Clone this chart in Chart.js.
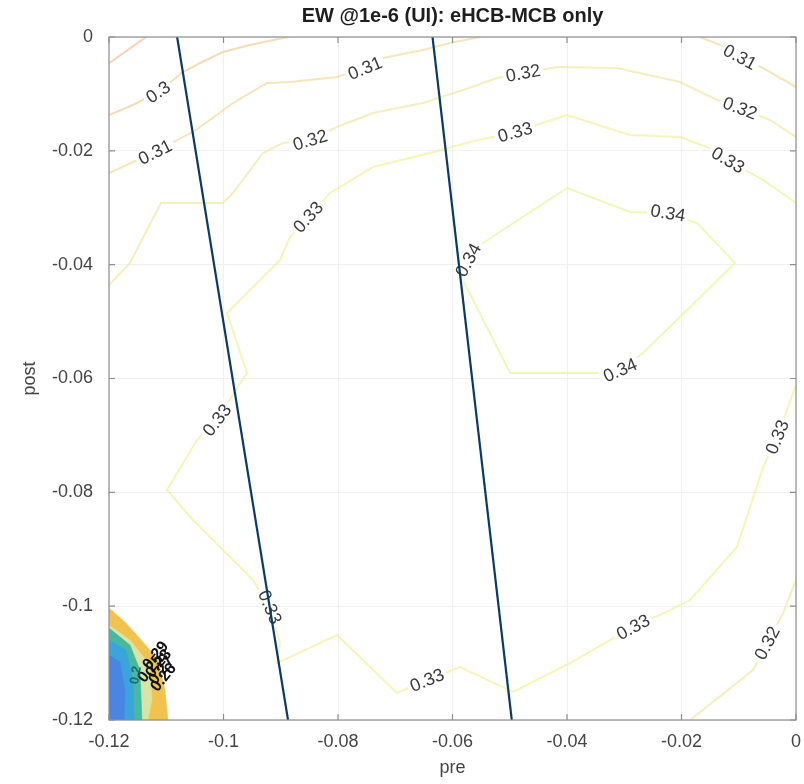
<!DOCTYPE html>
<html><head><meta charset="utf-8">
<script src="https://cdn.jsdelivr.net/npm/chart.js@4/dist/chart.umd.min.js"></script>
<style>html,body{margin:0;padding:0;background:#fff}canvas{display:block}</style>
</head><body>
<canvas id="c" width="804" height="784"></canvas>
<script>
// ---------- data ----------
const titleText = 'EW @1e-6 (UI): eHCB-MCB only';
const xLabel = 'pre';
const yLabel = 'post';
const xTicks = [-0.12, -0.1, -0.08, -0.06, -0.04, -0.02, 0];
const yTicks = [-0.12, -0.1, -0.08, -0.06, -0.04, -0.02, 0];

// straight divider lines [x,y]
const divider1 = [[-0.1081, 0], [-0.08873, -0.12]];
const divider2 = [[-0.06349, 0], [-0.04965, -0.12]];

// contour paths [pre, post]
const contour029 = [[-0.12,-0.0046],[-0.1135,0]];
const contour030 = [[-0.12,-0.0137],[-0.11546,-0.01177],[-0.11144,-0.00966],[-0.10707,-0.00615],[-0.1041,-0.00457],[-0.10009,-0.00264],[-0.09537,-0.00141],[-0.08873,0]];
const contour031a = [[-0.12,-0.0239],[-0.11196,-0.02021],[-0.1048,-0.01634],[-0.09834,-0.0116],[-0.0924,-0.00808],[-0.08838,-0.00791],[-0.08017,-0.00703],[-0.07528,-0.00545],[-0.07213,-0.00369],[-0.06515,-0.00228],[-0.06043,-0.00105],[-0.05519,0]];
const contour031b = [[-0.01675,0],[-0.01326,-0.0014],[-0.00977,-0.00351],[-0.00575,-0.00545],[0,-0.00879]];
const contour032a = [[-0.12,-0.04357],[-0.11633,-0.03971],[-0.11092,-0.02917],[-0.10009,-0.02917],[-0.09834,-0.02741],[-0.0931,-0.02038],[-0.0896,-0.01862],[-0.08489,-0.0181],[-0.08017,-0.01581],[-0.07388,-0.01335],[-0.06515,-0.0116],[-0.05816,-0.00931],[-0.05222,-0.0072],[-0.04768,-0.00633],[-0.04174,-0.00527],[-0.03126,-0.00545],[-0.02025,-0.00791],[-0.01379,-0.01107],[-0.00977,-0.01247],[-0.00453,-0.01458],[0,-0.01757]];
const contour032b = [[-0.0185,-0.12],[-0.00749,-0.11122],[-0.00505,-0.10647],[-0.00225,-0.1012],[0,-0.0954]];
const contour033a = [[0,-0.02917],[-0.00575,-0.02513],[-0.01187,-0.02161],[-0.01553,-0.01933],[-0.02025,-0.01757],[-0.02898,-0.01722],[-0.04,-0.0137],[-0.04907,-0.01669],[-0.05693,-0.01845],[-0.06392,-0.02038],[-0.07388,-0.02284],[-0.08139,-0.02741],[-0.08524,-0.03163],[-0.08838,-0.03514],[-0.09013,-0.03918],[-0.09939,-0.04849],[-0.09589,-0.05904],[-0.09764,-0.06167],[-0.10113,-0.06729],[-0.10463,-0.07081],[-0.10987,-0.07959],[-0.10533,-0.08486],[-0.09484,-0.0954],[-0.09187,-0.10015],[-0.09013,-0.10647],[-0.09065,-0.11],[-0.08017,-0.10507],[-0.06969,-0.11526],[-0.06445,-0.11298],[-0.05868,-0.11069],[-0.04942,-0.11508],[-0.03947,-0.11],[-0.02846,-0.10366],[-0.022,-0.10068],[-0.0185,-0.09892],[-0.01029,-0.08961],[-0.00575,-0.07555],[-0.00331,-0.07028],[-0.0005,-0.06255],[0,-0.06114]];
const contour034 = [[-0.04,-0.02653],[-0.02898,-0.03075],[-0.02235,-0.03092],[-0.01728,-0.03268],[-0.01064,-0.03971],[-0.02671,-0.05552],[-0.03073,-0.05851],[-0.03475,-0.05904],[-0.04995,-0.05904],[-0.05816,-0.0427],[-0.05728,-0.03918],[-0.05467,-0.03619],[-0.04,-0.02653]];

// contour label: [text, path, vertex index]
const contourLabels = [
  ['0.3', 'contour030', 2],
  ['0.31', 'contour031a', 1], ['0.31', 'contour031a', 7], ['0.31', 'contour031b', 2],
  ['0.32', 'contour032a', 7], ['0.32', 'contour032a', 13], ['0.32', 'contour032a', 18], ['0.32', 'contour032b', 2],
  ['0.33', 'contour033a', 2], ['0.33', 'contour033a', 7], ['0.33', 'contour033a', 12], ['0.33', 'contour033a', 18],
  ['0.33', 'contour033a', 23], ['0.33', 'contour033a', 28], ['0.33', 'contour033a', 32], ['0.33', 'contour033a', 37],
  ['0.34', 'contour034', 2], ['0.34', 'contour034', 6], ['0.34', 'contour034', 10]
];

// low-value filled region in the corner (parula bands)
const patchGold = [[-0.12,-0.10032],[-0.1172,-0.10279],[-0.11406,-0.1063],[-0.11144,-0.10946],[-0.11022,-0.11473],[-0.10969,-0.12],[-0.12,-0.12]];
const patchPale = [[-0.12,-0.10331],[-0.11633,-0.10595],[-0.11284,-0.11034],[-0.11249,-0.11649],[-0.1132,-0.12],[-0.12,-0.12]];
const patchTeal = [[-0.12,-0.10384],[-0.11633,-0.10683],[-0.11458,-0.11122],[-0.11424,-0.12],[-0.12,-0.12]];
const patchCyan = [[-0.12,-0.10595],[-0.11703,-0.1077],[-0.11581,-0.11298],[-0.11563,-0.12],[-0.12,-0.12]];
const patchBlue = [[-0.12,-0.10858],[-0.11808,-0.10981],[-0.1172,-0.11473],[-0.11738,-0.12],[-0.12,-0.12]];
// crowded labels in the corner: [text, pre, post]
const cornerLabels = [['0.29',-0.11196,-0.10858],['0.28',-0.11144,-0.11],['0.27',-0.11092,-0.11122],['0.26',-0.11057,-0.11245],['0.25',-0.11284,-0.11087]];
const cornerTealLabel = ['0.2', -0.11546, -0.1121];

// ---------- chart ----------
const paths = {contour029, contour030, contour031a, contour031b, contour032a, contour032b, contour033a, contour034};
const toXY = a => a.map(p => ({x: p[0], y: p[1]}));
const FONT = '"Liberation Sans", Arial, Helvetica, sans-serif';

const contourStyles = [
  ['contour029', 'rgba(238,175,120,0.55)'],
  ['contour030', 'rgba(236,196,135,0.6)'],
  ['contour031a', 'rgba(236,212,145,0.6)'],
  ['contour031b', 'rgba(236,212,145,0.6)'],
  ['contour032a', 'rgba(236,226,150,0.6)'],
  ['contour032b', 'rgba(236,226,150,0.6)'],
  ['contour033a', 'rgba(238,238,150,0.65)'],
  ['contour034', 'rgba(232,242,150,0.65)']
];
// lower index is drawn on top, so innermost band first
const patchStyles = [
  [patchBlue, '#4a85e2'], [patchCyan, '#3aa5dc'], [patchTeal, '#45b9a2'], [patchPale, '#d9e4a4'], [patchGold, '#f1c24e']
];

const datasets = [];
[divider1, divider2].forEach(d => datasets.push({
  data: toXY(d), showLine: true, borderColor: '#0b3a68', borderWidth: 2.2, pointRadius: 0, fill: false, order: 0
}));
contourStyles.forEach(([name, col]) => datasets.push({
  data: toXY(paths[name]), showLine: true, borderColor: col, borderWidth: 2, pointRadius: 0, fill: false, order: 1
}));
patchStyles.forEach(([poly, col]) => datasets.push({
  data: toXY(poly), showLine: true, borderColor: col, borderWidth: 0.5, backgroundColor: col, pointRadius: 0, fill: 'shape', order: 2
}));

function drawRotLabel(ctx, text, px, py, ang, color, font, bg) {
  ctx.save();
  ctx.translate(px, py);
  ctx.rotate(ang);
  ctx.font = font;
  ctx.textAlign = 'center';
  ctx.textBaseline = 'middle';
  if (bg) {
    const w = ctx.measureText(text).width;
    ctx.fillStyle = '#ffffff';
    ctx.fillRect(-w / 2 - 3, -8, w + 6, 16);
  }
  ctx.fillStyle = color;
  ctx.fillText(text, 0, 1);
  ctx.restore();
}

const labelPlugin = {
  id: 'labels',
  beforeDatasetDraw(chart, args) {
    if (args.index !== 1) return;
    const ctx = chart.ctx, xs = chart.scales.x, ys = chart.scales.y;
    ctx.save();
    contourLabels.forEach(([txt, name, i]) => {
      const p = paths[name];
      const P = q => [xs.getPixelForValue(q[0]), ys.getPixelForValue(q[1])];
      const c = P(p[i]), a = P(p[Math.max(0, i - 1)]), b = P(p[Math.min(p.length - 1, i + 1)]);
      let ang = Math.atan2(b[1] - a[1], b[0] - a[0]);
      if (ang > Math.PI / 2) ang -= Math.PI;
      if (ang < -Math.PI / 2) ang += Math.PI;
      drawRotLabel(ctx, txt, c[0], c[1], ang, '#3a3a3a', '18px ' + FONT, true);
    });
    cornerLabels.forEach(([txt, x, y]) => {
      drawRotLabel(ctx, txt, xs.getPixelForValue(x), ys.getPixelForValue(y), -0.9, '#111', 'bold 16px ' + FONT, false);
    });
    drawRotLabel(ctx, cornerTealLabel[0], xs.getPixelForValue(cornerTealLabel[1]), ys.getPixelForValue(cornerTealLabel[2]), -1.4, '#1b6f66', 'bold 13px ' + FONT, false);
    ctx.restore();
  },
  afterDraw(chart) {
    const ctx = chart.ctx, a = chart.chartArea, xs = chart.scales.x, ys = chart.scales.y;
    ctx.save();
    ctx.strokeStyle = '#8e8e8e';
    ctx.lineWidth = 1.2;
    ctx.strokeRect(a.left, a.top, a.right - a.left, a.bottom - a.top);
    const L = 6;
    ctx.beginPath();
    xTicks.forEach(v => {
      const x = xs.getPixelForValue(v);
      ctx.moveTo(x, a.bottom); ctx.lineTo(x, a.bottom - L);
      ctx.moveTo(x, a.top); ctx.lineTo(x, a.top + L);
    });
    yTicks.forEach(v => {
      const y = ys.getPixelForValue(v);
      ctx.moveTo(a.left, y); ctx.lineTo(a.left + L, y);
      ctx.moveTo(a.right, y); ctx.lineTo(a.right - L, y);
    });
    ctx.stroke();
    // title
    ctx.fillStyle = '#1e1e1e';
    ctx.font = 'bold 20px ' + FONT;
    ctx.textAlign = 'center';
    ctx.textBaseline = 'middle';
    ctx.fillText(titleText, (a.left + a.right) / 2, 16);
    // axis titles
    ctx.fillStyle = '#444';
    ctx.font = '18px ' + FONT;
    ctx.fillText(xLabel, (a.left + a.right) / 2, 768);
    ctx.translate(30, (a.top + a.bottom) / 2);
    ctx.rotate(-Math.PI / 2);
    ctx.fillText(yLabel, 0, 0);
    ctx.restore();
  }
};

const fmt = v => { const r = Math.round(v * 100) / 100; return r === 0 ? '0' : String(r); };

new Chart(document.getElementById('c'), {
  type: 'scatter',
  data: {datasets},
  plugins: [labelPlugin],
  options: {
    responsive: false,
    animation: false,
    events: [],
    layout: {padding: {top: 37, right: 8, left: 0, bottom: 0}},
    plugins: {legend: {display: false}, tooltip: {enabled: false}, title: {display: false}},
    elements: {line: {tension: 0}},
    scales: {
      x: {
        type: 'linear', min: -0.12, max: 0,
        afterBuildTicks: s => { s.ticks = xTicks.map(v => ({value: v})); },
        afterFit: s => { s.height = 64; s.paddingLeft = 0; s.paddingRight = 0; },
        grid: {color: '#f0f0f0', drawTicks: false},
        border: {display: false},
        ticks: {callback: fmt, padding: 11, color: '#454545', font: {size: 18, family: FONT}, maxRotation: 0, autoSkip: false}
      },
      y: {
        type: 'linear', min: -0.12, max: 0,
        afterBuildTicks: s => { s.ticks = yTicks.map(v => ({value: v})); },
        afterFit: s => { s.width = 109; s.paddingTop = 0; s.paddingBottom = 0; },
        grid: {color: '#f0f0f0', drawTicks: false},
        border: {display: false},
        ticks: {callback: fmt, padding: 16, color: '#454545', font: {size: 18, family: FONT}, autoSkip: false}
      }
    }
  }
});
</script>
</body></html>
